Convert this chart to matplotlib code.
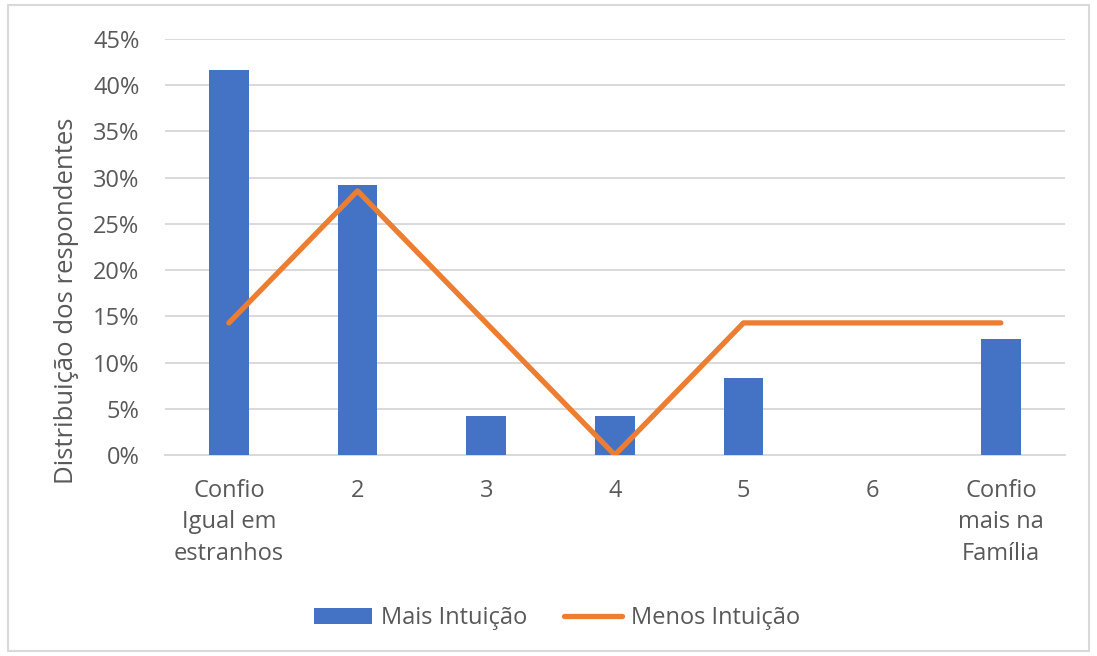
import matplotlib.pyplot as plt
from matplotlib.patches import Rectangle
from matplotlib.ticker import PercentFormatter

plt.rcParams['font.family'] = ['Open Sans', 'DejaVu Sans']

# categorias da escala de confiança
categorias = ['Confio\nIgual em\nestranhos', '2', '3', '4', '5', '6', 'Confio\nmais na\nFamília']
mais_intuicao = [41.67, 29.17, 4.17, 4.17, 8.33, 0.0, 12.5]
menos_intuicao = [14.29, 28.57, 14.29, 0.0, 14.29, 14.29, 14.29]

cinza = '#595959'
fs = 17

fig = plt.figure(figsize=(10.97, 6.56), dpi=100)
ax = fig.add_axes([0.150, 0.3064, 0.821, 0.6341])

x = list(range(len(categorias)))
barras = ax.bar(x, mais_intuicao, width=0.31, color='#4472C4', label='Mais Intuição', zorder=3)
linha, = ax.plot(x, menos_intuicao, color='#ED7D31', linewidth=3.8, solid_capstyle='round',
                 label='Menos Intuição', zorder=4)

ax.set_xlim(-0.5, len(categorias) - 0.5)
ax.set_ylim(0, 45)
ax.set_yticks(range(0, 46, 5))
ax.yaxis.set_major_formatter(PercentFormatter(decimals=0))
ax.set_xticks(x)
ax.set_xticklabels(categorias, linespacing=1.42)
ax.tick_params(axis='both', length=0, labelsize=fs, labelcolor=cinza)
ax.tick_params(axis='x', pad=17)
ax.tick_params(axis='y', pad=18)

ax.grid(axis='y', color='#D9D9D9', linewidth=1.4, zorder=0)
for lado in ['top', 'right', 'left']:
    ax.spines[lado].set_visible(False)
ax.spines['bottom'].set_color('#D9D9D9')
ax.spines['bottom'].set_linewidth(1.4)

fig.text(0.061, 0.542, 'Distribuição dos respondentes', rotation=90, fontsize=18.5,
         color=cinza, ha='center', va='center')

ax.legend([barras, linha], ['Mais Intuição', 'Menos Intuição'],
          loc='center', bbox_to_anchor=(0.508, 0.058), bbox_transform=fig.transFigure,
          ncol=2, frameon=False, fontsize=fs, labelcolor=cinza,
          handlelength=2.45, handleheight=0.65, handletextpad=0.4, columnspacing=1.55)

# moldura da área do gráfico
fig.patches.append(Rectangle((0.007, 0.008), 0.986, 0.984, transform=fig.transFigure,
                             fill=False, edgecolor='#D9D9D9', linewidth=1.5))

fig.savefig('out.png', dpi=100)
